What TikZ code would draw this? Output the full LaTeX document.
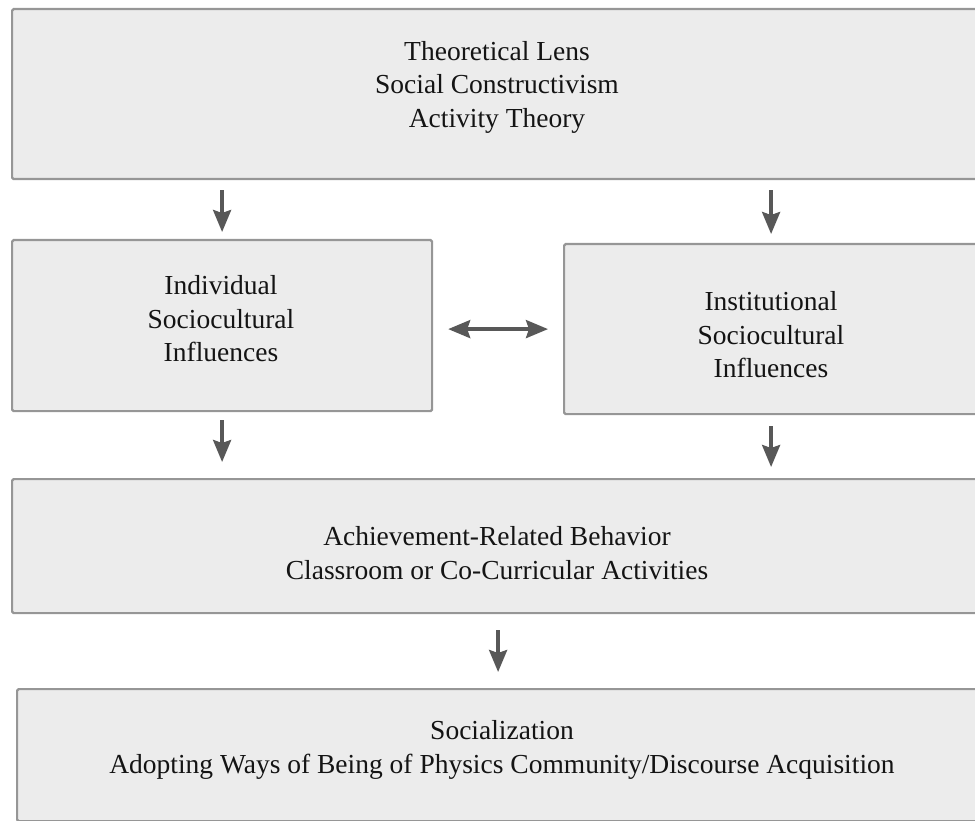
\documentclass[tikz,border=0pt]{standalone}
\usepackage{fontspec}
\setmainfont{Liberation Serif}
\usetikzlibrary{arrows.meta}
\definecolor{boxfill}{RGB}{236,236,236}
\definecolor{boxline}{RGB}{150,150,150}
\definecolor{arrowgray}{RGB}{88,88,88}
\tikzset{
  panel/.style={draw=boxline, fill=boxfill, line width=2.2pt, rounded corners=1.5pt,
    inner sep=0pt, anchor=north west},
  caption/.style={align=center, font=\fontsize{27.5}{33.5}\selectfont, text=black!92},
  flow/.style={draw=arrowgray, line width=3.5pt,
    -{Stealth[length=22pt, width=18pt, inset=3pt]}},
  twoway/.style={draw=arrowgray, line width=3.5pt,
    {Stealth[length=22pt, width=18pt, inset=3pt]}-{Stealth[length=22pt, width=18pt, inset=3pt]}}
}
\begin{document}
\begin{tikzpicture}[x=1pt, y=-1pt]
\useasboundingbox (0,0) rectangle (975,821);
\clip (0,0) rectangle (975,821);

% boxes
\node[panel, minimum width=972pt, minimum height=170pt] (lens) at (11,8) {};
\node[panel, minimum width=420pt, minimum height=171pt] (indiv) at (11,239) {};
\node[panel, minimum width=414pt, minimum height=170pt] (inst) at (563,243) {};
\node[panel, minimum width=972pt, minimum height=134pt] (behav) at (11,478) {};
\node[panel, minimum width=972pt, minimum height=132pt] (social) at (16,688) {};

% texts
\node[caption] (lenstext) at (497,87) {Theoretical Lens\\Social Constructivism\\Activity Theory};
\node[caption] (indivtext) at (221,319) {Individual\\Sociocultural\\Influences};
\node[caption] (insttext) at (771,335) {Institutional\\Sociocultural\\Influences};
\node[caption] (behavtext) at (497,553) {Achievement-Related Behavior\\Classroom or Co-Curricular Activities};
\node[caption] (socialtext) at (502,750) {Socialization\\Adopting Ways of Being of Physics Community/Discourse Acquisition};

% connectors
\draw[flow, shorten <=10pt, shorten >=7pt] (lens.south -| indiv.north) -- (indiv.north);
\draw[flow, shorten <=10pt, shorten >=9pt] (lens.south -| inst.north) -- (inst.north);
\draw[twoway, shorten <=15pt, shorten >=15pt] (indiv.east |- inst.west) -- (inst.west);
\draw[flow, shorten <=8pt, shorten >=16pt] (indiv.south) -- (behav.north -| indiv.south);
\draw[flow, shorten <=11pt, shorten >=11pt] (inst.south) -- (behav.north -| inst.south);
\draw[flow, shorten <=16pt, shorten >=16pt] (behav.south) -- (behav.south |- social.north);
\end{tikzpicture}
\end{document}
